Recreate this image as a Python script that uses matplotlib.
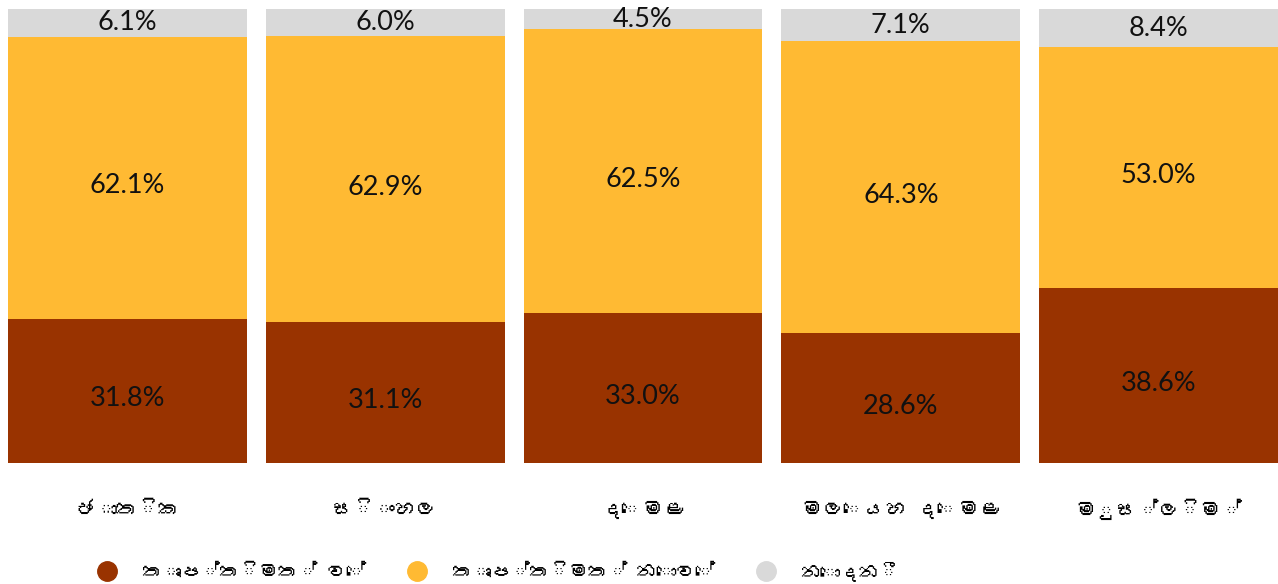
import numpy as np
import matplotlib
matplotlib.use('Agg')
import matplotlib.pyplot as plt
from matplotlib import font_manager
from matplotlib.lines import Line2D
from matplotlib.ft2font import FT2Font

categories = ['ජාතික', 'සිංහල', 'දෙමළ', 'මලෙයහ දෙමළ', 'මුස්ලිම්']
satisfied = [31.8, 31.1, 33.0, 28.6, 38.6]
not_satisfied = [62.1, 62.9, 62.5, 64.3, 53.0]
dont_know = [6.1, 6.0, 4.5, 7.1, 8.4]
series_names = ['තෘප්තිමත් වේ', 'තෘප්තිමත් නොවේ', 'නොදනී']
colors = ['#993300', '#FFBA33', '#D9D9D9']


# look for any installed font that has sinhala glyphs
def find_sinhala_font():
    for f in font_manager.findSystemFonts():
        try:
            ft = FT2Font(f)
            if ft.get_char_index(0x0DA2) and ft.get_char_index(0x0DC3):
                return font_manager.FontProperties(fname=f).get_name()
        except Exception:
            continue
    return None


sinhala = find_sinhala_font()
num_font = 'Lato'
label_family = [sinhala, 'DejaVu Sans'] if sinhala else ['DejaVu Sans']

fig = plt.figure(figsize=(12.78, 5.84), dpi=100)
ax = fig.add_axes([8 / 1278, 1 - 463 / 584, 1 - 8 / 1278, (463 - 9) / 584])

x = np.arange(len(categories))
width = 0.926
bottom = np.zeros(len(categories))
all_series = [satisfied, not_satisfied, dont_know]
for k, (vals, c) in enumerate(zip(all_series, colors)):
    vals = np.array(vals)
    ax.bar(x, vals, width, bottom=bottom, color=c, linewidth=0)
    shift = 0 if k == len(all_series) - 1 else 1.8  # labels sit a bit low in big segments
    for xi, v, b in zip(x, vals, bottom):
        ax.text(xi, b + v / 2 - shift, '{:.1f}%'.format(v), ha='center', va='center',
                fontsize=19.5, family=num_font, color='#111111')
    bottom += vals

ax.set_xlim(-width / 2, len(categories) - 1 + width / 2)
ax.set_ylim(0, 100)
ax.axis('off')

for xi, cat in zip(x, categories):
    ax.text(xi, -10.3, cat, ha='center', va='center', fontsize=15, family=label_family)

handles = [Line2D([], [], marker='o', linestyle='none', markersize=14,
                  markerfacecolor=c, markeredgecolor=c) for c in colors]
fig.legend(handles, series_names, loc='center left', bbox_to_anchor=(0.055, 0.022),
           ncol=3, frameon=False, handletextpad=0.8, columnspacing=1.6,
           prop=font_manager.FontProperties(family=label_family, size=14))

fig.savefig('out.png', dpi=100)
